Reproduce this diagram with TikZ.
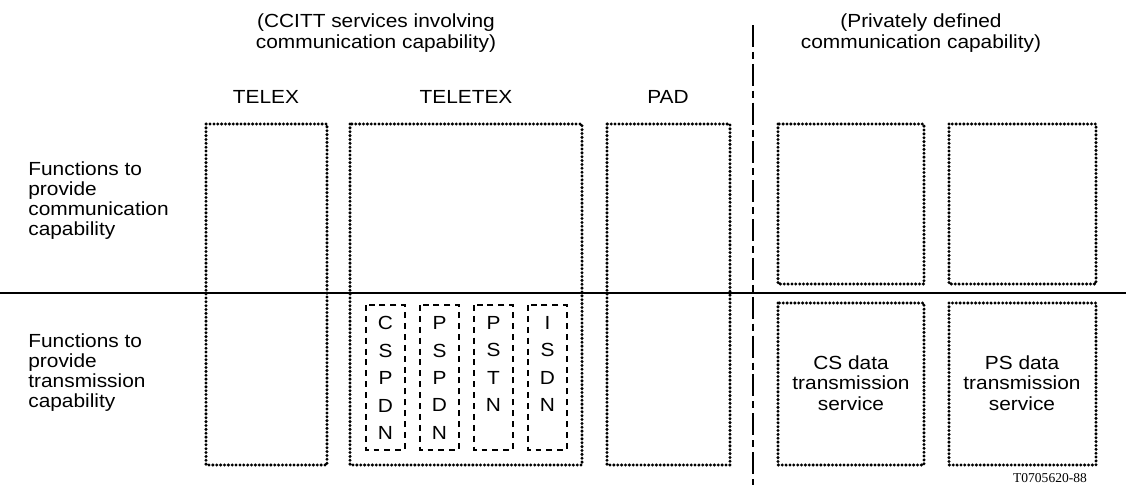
\documentclass[tikz,border=0pt]{standalone}
\usepackage{fontspec}
\setmainfont{Liberation Sans}[FakeStretch=1.1]
\newfontfamily\tagfont{Liberation Serif}

\begin{document}
\begin{tikzpicture}[x=0.02cm,y=-0.02cm,
  dotbox/.style={line width=1.9pt,line cap=round,dash pattern=on 0pt off 2.2pt},
  dashbox/.style={line width=0.75pt,dash pattern=on 3.4pt off 2.8pt},
  divider/.style={line width=1.1pt,dash pattern=on 12.5pt off 2.8pt on 4pt off 2.8pt},
  heading/.style={align=center,inner sep=0pt,font=\fontsize{10.8}{12.4}\selectfont},
  sidetext/.style={align=left,anchor=west,inner sep=0pt,font=\fontsize{10.8}{11.4}\selectfont},
  boxtext/.style={align=center,inner sep=0pt,font=\fontsize{10.8}{11.8}\selectfont},
  letters/.style={align=center,inner sep=0pt,font=\fontsize{10.8}{15.6}\selectfont}]

\useasboundingbox (0,0) rectangle (1126,487);

% rows and the private/CCITT divide
\coordinate (H1) at (0,293);
\coordinate (H2) at (1126,293);
\draw[line width=0.7pt] (H1) -- (H2);

\coordinate (V1) at (753,25);
\coordinate (V2) at (753,485);
\draw[divider] (V1) -- (V2);

% CCITT service columns
\coordinate (TX1) at (206,124);
\coordinate (TX2) at (327,465);
\coordinate (TT1) at (350,124);
\coordinate (TT2) at (582,465);
\coordinate (PA1) at (607,124);
\coordinate (PA2) at (730,465);

\draw[dotbox] (TX1) rectangle (TX2);
\draw[dotbox] (TT1) rectangle (TT2);
\draw[dotbox] (PA1) rectangle (PA2);

% private columns
\coordinate (CU1) at (778,124);
\coordinate (CU2) at (924,284);
\coordinate (PU1) at (949,124);
\coordinate (PU2) at (1096,284);
\coordinate (CL1) at (778,303);
\coordinate (CL2) at (924,465);
\coordinate (PL1) at (949,303);
\coordinate (PL2) at (1096,465);

\draw[dotbox] (CU1) rectangle (CU2);
\draw[dotbox] (PU1) rectangle (PU2);
\draw[dotbox] (CL1) rectangle (CL2);
\draw[dotbox] (PL1) rectangle (PL2);

% networks inside TELETEX
\foreach \x in {366,420,474,528}
{
  \draw[dashbox] (\x,305) rectangle (\x+39,450);
}

\node[letters] (cspdn) at (385.5,378) {C\\S\\P\\D\\N};
\node[letters] (pspdn) at (439.5,378) {P\\S\\P\\D\\N};
\node[letters] (pstn) at (493.5,364) {P\\S\\T\\N};
\node[letters] (isdn) at (547.5,364) {I\\S\\D\\N};

\node[heading] (ccitt) at (376,33) {(CCITT services involving\\communication capability)};
\node[heading] (private) at (921,33) {(Privately defined\\communication capability)};

\node[heading] (telex) at (266,97) {TELEX};
\node[heading] (teletex) at (466,97) {TELETEX};
\node[heading] (pad) at (668,97) {PAD};

\node[sidetext] (commfn) at (28,201) {Functions to\\provide\\communication\\capability};
\node[sidetext] (transfn) at (28,373) {Functions to\\provide\\transmission\\capability};

\node[boxtext] (csdata) at (851,383) {CS data\\transmission\\service};
\node[boxtext] (psdata) at (1022,383) {PS data\\transmission\\service};

\node[inner sep=0pt,font=\tagfont\fontsize{7.7}{9}\selectfont] (tag) at (1050,478) {T0705620-88};

\end{tikzpicture}
\end{document}
